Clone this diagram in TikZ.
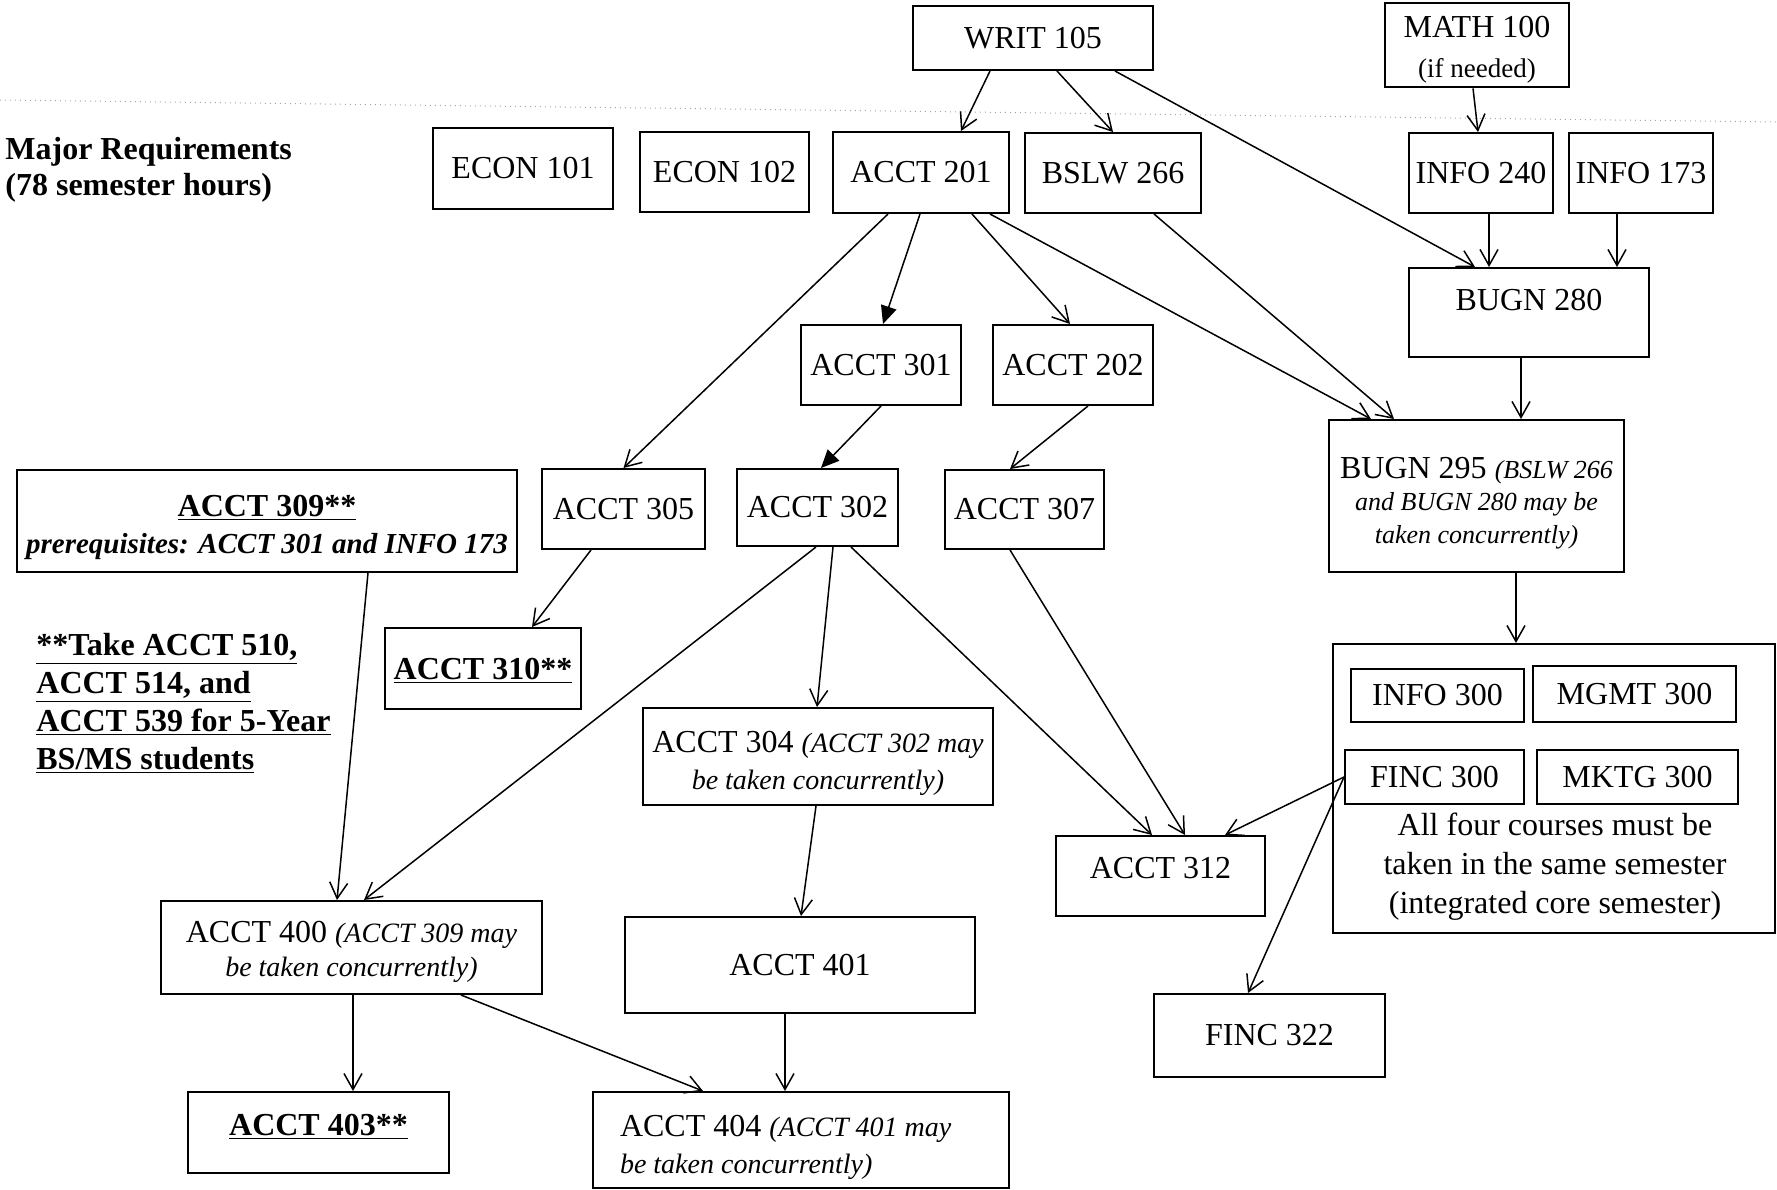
\documentclass[tikz,border=0pt]{standalone}
\usepackage{fontspec}
\setmainfont{Liberation Serif}
\usetikzlibrary{arrows.meta}
\tikzset{
  box/.style={draw, line width=1pt, inner sep=2pt, align=center, font=\fontsize{16}{18.5}\selectfont},
  arr/.style={line width=0.75pt, -{Straight Barb[length=8pt,width=9pt]}},
  farr/.style={line width=0.75pt, -{Triangle[length=9pt,width=8pt]}},
}
\newcommand{\smit}[1]{{\fontsize{14}{17}\selectfont\itshape #1}}
\newcommand{\tinyit}[1]{{\fontsize{13}{16}\selectfont\itshape #1}}
\begin{document}
\begin{tikzpicture}[x=0.5pt,y=-0.5pt]
\useasboundingbox (0,0) rectangle (1777,1189);
% rule and heading
\draw[gray!70, dotted, line width=0.5pt] (0,100) -- (1777,122);
\node (head) [anchor=north west, inner sep=0pt, align=left, font=\bfseries\fontsize{16}{18}\selectfont] at (5,137) {Major Requirements\\(78 semester hours)};
% first courses
\node (writ) [box, minimum width=120pt, minimum height=32pt] at (1033,38) {WRIT 105};
\node (math) [box, minimum width=92pt, minimum height=40pt, text height=35.5pt] at (1477,45) {MATH 100\\[1.5pt]{\fontsize{13.5}{16}\selectfont (if needed)}};
\node (econa) [box, minimum width=90pt, minimum height=40.5pt] at (523,168.5) {ECON 101};
\node (econb) [box, minimum width=84.5pt, minimum height=40pt] at (724.5,172) {ECON 102};
\node (acct201) [box, minimum width=88pt, minimum height=40.5pt] at (921,172.5) {ACCT 201};
\node (bslw) [box, minimum width=88pt, minimum height=40pt] at (1113,173) {BSLW 266};
\node (infoa) [box, minimum width=72pt, minimum height=40pt] at (1481,173) {INFO 240};
\node (infob) [box, minimum width=72pt, minimum height=40pt] at (1641,173) {INFO 173};
\node (bugna) [box, minimum width=120pt, minimum height=44.5pt, text depth=13pt] at (1529,312.5) {BUGN 280};
% second level
\node (acct301) [box, minimum width=80pt, minimum height=40pt] at (881,365) {ACCT 301};
\node (acct202) [box, minimum width=80pt, minimum height=40pt] at (1073,365) {ACCT 202};
\node (bugnb) [box, minimum width=147.5pt, minimum height=76pt, text height=50pt, font=\fontsize{16}{16.3}\selectfont] at (1476.5,496) {BUGN 295 \tinyit{(BSLW 266}\\\tinyit{and BUGN 280 may be}\\\tinyit{taken concurrently)}};
\node (acct305) [box, minimum width=81.5pt, minimum height=40pt] at (623.5,509) {ACCT 305};
\node (acct302) [box, minimum width=80.5pt, minimum height=38.5pt] at (817.5,507.5) {ACCT 302};
\node (acct307) [box, minimum width=79.5pt, minimum height=39.5pt] at (1024.5,509.5) {ACCT 307};
\node (acct309) [box, minimum width=250pt, minimum height=51pt, text height=35.5pt] at (267,521) {\underline{\textbf{ACCT 309**}}\\{\fontsize{14.5}{18}\selectfont\bfseries\itshape prerequisites: ACCT 301 and INFO 173}};
\node (acct310) [box, minimum width=98pt, minimum height=40.5pt, text depth=0pt] at (483,668.5) {\underline{\textbf{ACCT 310**}}};
\node (note) [anchor=north west, inner sep=0pt, align=left, font=\bfseries\fontsize{16}{18.9}\selectfont] at (36,633) {\underline{**Take ACCT 510,}\\\underline{ACCT 514, and}\\\underline{ACCT 539 for 5-Year}\\\underline{BS/MS students}};
\node (acct304) [box, minimum width=175pt, minimum height=48.5pt, text height=36.5pt] at (818,756.5) {ACCT 304 \smit{(ACCT 302 may}\\\smit{be taken concurrently)}};
\node (acct312) [box, minimum width=104.5pt, minimum height=40pt, text depth=8pt] at (1160.5,876) {ACCT 312};
% integrated core semester
\node (core) [box, minimum width=221pt, minimum height=144.5pt] at (1554,788.5) {};
\node (infoc) [box, minimum width=86.5pt, minimum height=26.5pt] at (1437.5,695.5) {INFO 300};
\node (mgmt) [box, minimum width=101.5pt, minimum height=28pt] at (1634.5,694) {MGMT 300};
\node (finca) [box, minimum width=89.5pt, minimum height=27pt] at (1434.5,777) {FINC 300};
\node (mktg) [box, minimum width=100.5pt, minimum height=27pt] at (1637.5,777) {MKTG 300};
\node (coretext) [align=center, inner sep=0pt, font=\fontsize{16}{19.5}\selectfont] at (1555,866.5) {All four courses must be\\taken in the same semester\\(integrated core semester)};
\node (fincb) [box, minimum width=115.5pt, minimum height=41.5pt] at (1269.5,1035.5) {FINC 322};
% 400 level
\node (acct400) [box, minimum width=190.5pt, minimum height=46.5pt, text height=32pt] at (351.5,947.5) {ACCT 400 \smit{(ACCT 309 may}\\[-1.5pt]\smit{be taken concurrently)}};
\node (acct401) [box, minimum width=175pt, minimum height=48pt] at (800,965) {ACCT 401};
\node (acct403) [box, minimum width=130.5pt, minimum height=40.5pt, text depth=8pt] at (318.5,1132.5) {\underline{\textbf{ACCT 403**}}};
\node (acct404) [box, align=flush left, text width=181pt, inner xsep=13.5pt, minimum height=48pt, text height=18pt] at (801,1140) {ACCT 404 \smit{(ACCT 401 may}\\\smit{be taken concurrently)}};
% arrows from the top row
\draw[arr] ([xshift=-21.5pt]writ.south) -- ([xshift=20pt]acct201.north);
\draw[arr] ([xshift=12pt]writ.south) -- (bslw.north);
\draw[arr] ([xshift=41pt]writ.south) -- ([xshift=-27pt]bugna.north);
\draw[arr] ([xshift=-2pt]math.south) -- ([xshift=-1.5pt]infoa.north);
\draw[arr] ([xshift=4pt]infoa.south) -- ([xshift=-20pt]bugna.north);
\draw[arr] ([xshift=-12pt]infob.south) -- ([xshift=44pt]bugna.north);
\draw[arr] ([xshift=-16.5pt]acct201.south) -- (acct305.north);
\draw[farr] ([xshift=-0.5pt]acct201.south) -- ([xshift=1pt]acct301.north);
\draw[arr] ([xshift=25.5pt]acct201.south) -- ([xshift=-1.5pt]acct202.north);
\draw[arr] ([xshift=34.5pt]acct201.south) -- ([xshift=-52.75pt]bugnb.north);
\draw[arr] ([xshift=20.5pt]bslw.south) -- ([xshift=-41.25pt]bugnb.north);
\draw[arr] ([xshift=-4pt]bugna.south) -- ([xshift=22.25pt]bugnb.north);
\draw[arr] ([xshift=19.75pt]bugnb.south) -- ([xshift=-19pt]core.north);
% arrows in the middle
\draw[farr] (acct301.south) -- ([xshift=1.75pt]acct302.north);
\draw[arr] ([xshift=7.5pt]acct202.south) -- ([xshift=-7.25pt]acct307.north);
\draw[arr] ([xshift=-16.25pt]acct305.south) -- ([xshift=24.5pt]acct310.north);
\draw[arr] ([xshift=-0.75pt]acct302.south) -- ([xshift=6.25pt]acct400.north);
\draw[arr] ([xshift=7.75pt]acct302.south) -- ([xshift=-0.5pt]acct304.north);
\draw[arr] ([xshift=16.75pt]acct302.south) -- ([xshift=-4.25pt]acct312.north);
\draw[arr] ([xshift=-7.25pt]acct307.south) -- ([xshift=12.25pt]acct312.north);
\draw[arr] (finca.west) -- ([xshift=32.25pt]acct312.north);
\draw[arr] (finca.west) -- ([xshift=-10.75pt]fincb.north);
% arrows to the 400 level
\draw[arr] ([xshift=50.5pt]acct309.south) -- ([xshift=-7.25pt]acct400.north);
\draw[arr] ([xshift=-1pt]acct304.south) -- ([xshift=0.5pt]acct401.north);
\draw[arr] ([xshift=0.75pt]acct400.south) -- ([xshift=17.25pt]acct403.north);
\draw[arr] ([xshift=54.75pt]acct400.south) -- ([xshift=-49pt]acct404.north);
\draw[arr] ([xshift=-7.5pt]acct401.south) -- ([xshift=-8pt]acct404.north);
\end{tikzpicture}
\end{document}
